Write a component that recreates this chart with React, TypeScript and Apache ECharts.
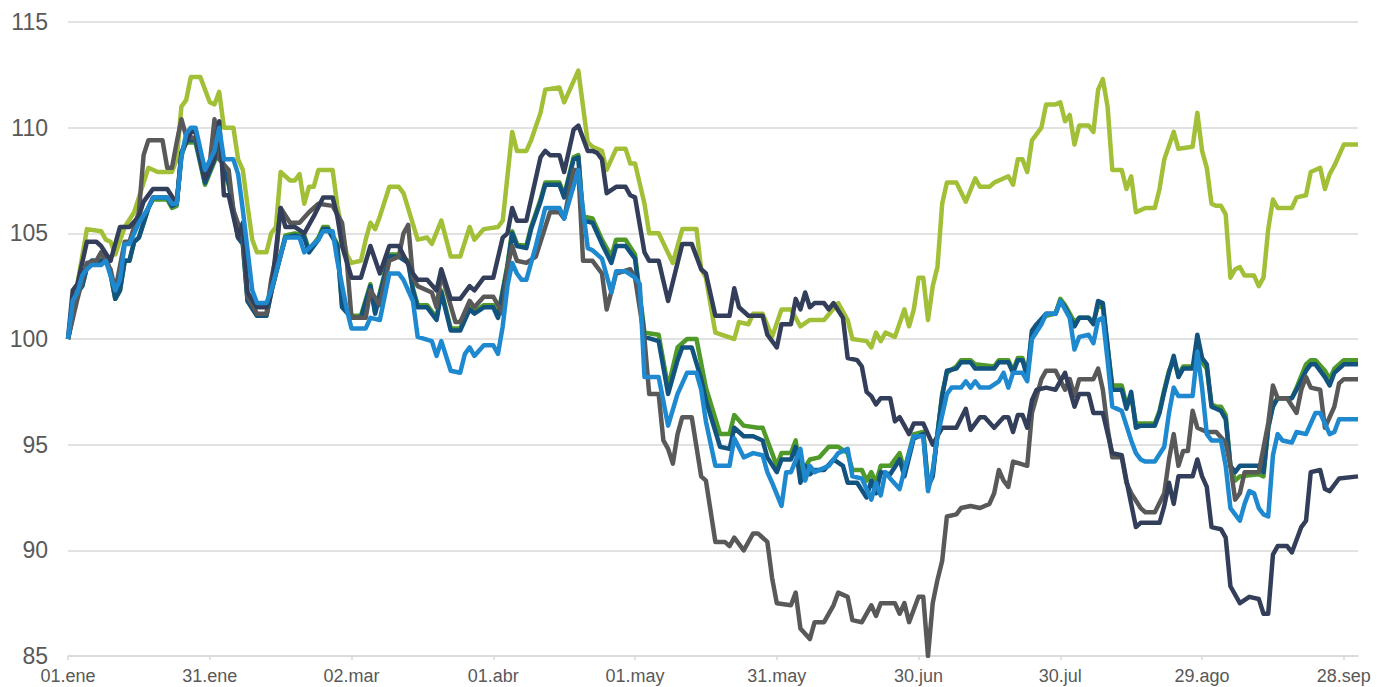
import React, { useEffect, useRef } from "react";
import * as echarts from "echarts";

const tickDays = [0, 30, 60, 90, 120, 150, 180, 210, 240, 270];
const tickLabels = ["01.ene", "31.ene", "02.mar", "01.abr", "01.may", "31.may", "30.jun", "30.jul", "29.ago", "28.sep"];

const limeData = [[0,100],[4,105.2],[7,105.1],[8,104.7],[9,104.6],[10,104.0],[12,105.3],[14,106],[17,108.1],[19,107.9],[22,107.9],[23,108.5],[24,111],[25,111.3],[26,112.4],[28,112.4],[30,111.2],[31,111.1],[32,111.7],[33,110],[35,110],[36,108.5],[37,108.0],[38,106.3],[39,104.7],[40,104.1],[42,104.1],[43,105],[44,105.3],[45,107.9],[47,107.5],[48,107.5],[49,107.8],[50,106.4],[51,107.2],[52,107.2],[53,108],[56,108],[57,106.3],[59,104],[60,103.6],[62,103.7],[63,104.7],[64,105.5],[65,105.2],[66,105.8],[68,107.2],[70,107.2],[71,106.9],[74,104.7],[76,104.8],[77,104.5],[79,105.6],[81,103.9],[83,103.9],[85,105.3],[86,104.7],[88,105.2],[91,105.3],[92,105.6],[93,107.7],[94,109.8],[95,108.9],[97,108.9],[98,109.4],[100,110.7],[101,111.8],[104,111.9],[105,111.2],[108,112.7],[110,109.3],[111,109.1],[113,108.9],[114,108],[116,109],[118,109],[119,108.3],[120,108.3],[122,106.4],[123,105],[125,105],[128,103.6],[130,105.2],[133,105.2],[134,103.3],[135,102.9],[137,100.3],[141,100.0],[142,100.8],[144,100.7],[145,101.2],[147,101.2],[149,100.1],[151,101.4],[153,101.4],[155,100.6],[157,100.9],[160,100.9],[163,101.7],[165,100.9],[166,100],[169,99.9],[170,99.6],[171,100.3],[172,99.9],[173,100.3],[175,100.1],[177,101.4],[178,100.6],[179,101.4],[180,102.9],[181,102.9],[182,100.9],[183,102.5],[184,103.4],[185,106.4],[186,107.4],[188,107.4],[190,106.5],[192,107.6],[193,107.2],[195,107.2],[196,107.4],[199,107.7],[200,107.3],[201,108.5],[202,108.5],[203,107.9],[204,109.4],[206,110],[207,111.1],[209,111.1],[210,111.2],[211,110.3],[212,110.6],[213,109.2],[214,110.1],[216,110.1],[217,109.8],[218,111.8],[219,112.3],[220,111],[221,108],[223,108],[224,107.1],[225,107.7],[226,106],[228,106.2],[230,106.2],[231,107.1],[232,108.5],[234,109.8],[235,109],[238,109.1],[239,110.7],[240,108.9],[241,108.1],[242,106.4],[243,106.3],[244,106.3],[245,105.9],[246,102.9],[247,103.3],[248,103.4],[249,103],[251,103],[252,102.5],[253,102.9],[254,105.2],[255,106.6],[256,106.2],[259,106.2],[260,106.7],[262,106.8],[263,107.9],[265,108.1],[266,107.1],[267,107.8],[268,108.2],[270,109.2],[273,109.2]];

const navyData = [[0,100],[1,102.3],[2,102.6],[4,104.6],[6,104.6],[7,104.4],[9,103.7],[11,105.3],[13,105.3],[15,105.8],[16,106.5],[18,107.1],[21,107.1],[23,106.4],[24,108.8],[25,109.3],[26,109.8],[27,109.8],[29,107.6],[31,108.6],[32,110.3],[33,106.8],[34,106.8],[36,104.8],[37,105.5],[38,102.2],[40,101.5],[42,101.5],[43,102.2],[45,106.2],[46,105.3],[48,105.3],[50,105],[52,105.8],[54,106.7],[56,106.7],[57,105.8],[58,104.4],[60,102.9],[62,102.9],[64,104.4],[66,103.1],[68,104.4],[70,104.4],[73,103.1],[74,102.8],[76,102.8],[78,102.3],[79,103.3],[81,101.9],[83,101.9],[85,102.5],[86,102.3],[88,102.9],[90,102.9],[92,104.8],[93,105],[94,106.2],[95,105.6],[97,105.6],[100,108.6],[101,108.9],[102,108.7],[104,108.7],[105,107.9],[107,109.9],[108,110.1],[110,108.9],[111,108.9],[112,108.8],[113,108.5],[114,106.9],[116,107.2],[118,107.2],[119,106.8],[120,106.7],[122,104.1],[123,103.7],[125,103.7],[127,101.8],[130,104.5],[132,104.5],[134,103.3],[135,103.1],[137,101.1],[140,101.1],[141,102.4],[142,101.5],[144,101.1],[147,101.1],[148,100.2],[150,99.6],[151,100.7],[153,100.7],[154,101.9],[155,101.4],[156,102.2],[157,101.5],[158,101.7],[160,101.7],[161,101.4],[162,101.7],[164,101],[165,99.1],[167,99],[168,98.7],[169,97.5],[170,97.3],[171,96.9],[172,97.2],[174,97.2],[175,96.1],[176,96.3],[178,95.5],[179,96],[181,96],[183,95.0],[185,95.8],[188,95.8],[190,96.7],[191,95.7],[193,96.3],[194,96.3],[196,95.8],[198,96.3],[199,96.3],[200,95.6],[201,96.4],[202,96.4],[203,95.8],[204,97.1],[205,97.6],[207,97.7],[209,97.6],[211,98.4],[213,96.8],[214,97.4],[216,97.4],[217,96.5],[219,96.5],[221,94.6],[223,94.5],[224,93.3],[226,91.1],[227,91.3],[231,91.3],[232,92.1],[233,93.2],[234,92.2],[235,93.5],[238,93.5],[239,94.3],[240,93.5],[241,93],[242,91.1],[244,91],[245,90.6],[246,88.3],[248,87.5],[250,87.8],[252,87.7],[253,87],[254,87.0],[255,89.8],[256,90.2],[258,90.2],[259,89.9],[261,91.1],[262,91.4],[263,93.7],[265,93.8],[266,92.9],[267,92.8],[269,93.4],[273,93.5]];

const grayData = [[0,100],[2,101.9],[4,103.6],[6,103.7],[7,104.1],[9,103.3],[10,102.3],[12,104.6],[13,104.6],[15,106],[16,108.7],[17,109.4],[20,109.4],[21,108.1],[22,108.1],[23,109.3],[24,110.4],[25,109.6],[27,109.5],[29,108],[30,108.3],[31,110.4],[32,108.5],[34,108],[35,106.1],[37,104.8],[38,102],[40,101.2],[42,101.2],[43,102.8],[44,103.9],[45,106.2],[47,105.5],[49,105.5],[51,106],[53,106.4],[56,106.3],[58,105.5],[59,103.7],[60,101],[63,101],[64,102.3],[66,101.6],[68,103.7],[70,103.9],[71,105],[72,105.4],[73,102.9],[74,102.5],[77,102.2],[78,101.5],[79,103.1],[82,100.8],[83,100.8],[85,101.8],[86,101.5],[88,102],[90,102],[92,101.2],[93,103.4],[94,104.4],[95,103.7],[97,103.6],[99,103.9],[101,105.3],[102,106],[104,106],[105,105.7],[107,108],[108,108],[109,103.7],[111,103.7],[113,103.1],[114,101.4],[116,103.1],[119,103.3],[120,102.9],[122,100],[123,97.4],[125,97.4],[126,95.2],[127,94.8],[128,94.1],[129,95.5],[130,96.3],[132,96.3],[134,93.5],[135,93.3],[137,90.4],[139,90.4],[140,90.2],[141,90.6],[143,90.0],[145,90.8],[146,90.8],[148,90.4],[149,88.7],[150,87.5],[153,87.4],[154,88.0],[155,86.3],[157,85.8],[158,86.6],[160,86.6],[162,87.4],[163,88],[165,87.8],[166,86.7],[168,86.6],[170,87.4],[171,86.9],[172,87.5],[175,87.5],[176,87],[177,87.5],[178,86.6],[180,87.8],[181,87.8],[182,85.0],[183,87.5],[184,88.6],[185,89.5],[186,91.6],[188,91.7],[189,92],[191,92.1],[193,92],[194,92.1],[195,92.2],[196,92.7],[197,93.8],[198,93.3],[199,93],[200,94.2],[203,94],[204,96.5],[205,97.3],[206,98.1],[207,98.5],[209,98.5],[211,97.6],[212,98.1],[213,97.3],[214,98.1],[217,98.1],[218,98.6],[219,97.6],[220,95.8],[221,94.4],[223,94.4],[224,93.2],[225,92.7],[227,92.0],[228,91.8],[230,91.8],[232,92.7],[233,94.3],[234,95.5],[235,94.0],[236,94.7],[237,94.7],[238,96.6],[239,95.8],[241,95.6],[243,95.6],[245,95.1],[246,94],[247,92.4],[248,92.7],[249,93.7],[252,93.7],[254,96.0],[255,97.8],[256,97.2],[258,97.2],[260,96.5],[261,97.6],[262,98.2],[263,97.7],[265,97.6],[266,95.8],[268,96.8],[269,97.9],[270,98.1],[273,98.1]];

const tealData = [[0,100],[2,102.2],[3,102.5],[4,103.4],[5,103.7],[7,103.7],[8,103.9],[9,103.1],[10,101.9],[11,102.3],[12,103.7],[13,103.7],[14,104.6],[15,104.8],[17,106.2],[18,106.7],[21,106.7],[22,106.3],[23,106.4],[24,108.8],[25,109.4],[27,109.4],[29,107.4],[31,108.5],[32,109.6],[33,108],[34,107.4],[36,104.8],[37,104.5],[38,101.8],[40,101.1],[42,101.1],[43,102.2],[44,103.1],[46,104.8],[48,104.9],[50,104.8],[51,104.1],[53,104.7],[54,105.2],[55,105.2],[57,104.4],[58,101.5],[60,101],[62,101],[64,102.5],[65,101.2],[68,103.9],[70,103.9],[72,103.6],[73,102.3],[74,101.5],[76,101.5],[78,100.9],[79,102.2],[81,100.4],[83,100.4],[85,101.4],[86,101.2],[88,101.5],[90,101.5],[91,101],[93,103.4],[94,105],[95,104.4],[97,104.3],[98,105.2],[100,106.5],[101,107.3],[104,107.3],[105,106.7],[107,108.5],[108,108.6],[109,105.6],[111,105.5],[113,104.5],[115,103.6],[116,104.4],[118,104.4],[120,103.8],[122,100.1],[125,99.9],[127,97.4],[129,99],[130,99.6],[132,99.6],[134,98.1],[135,97.1],[138,94.9],[140,94.8],[141,95.8],[143,95.4],[145,95.4],[147,95.2],[148,94.4],[150,93.7],[151,94.3],[153,94.3],[154,94.9],[155,93.2],[156,94.0],[157,93.6],[158,93.8],[160,93.8],[162,94.3],[164,94],[165,93.2],[167,93.2],[169,92.5],[170,93.3],[171,92.7],[172,93.7],[174,93.6],[176,94.3],[177,93.5],[179,95.3],[181,95.5],[182,93.0],[183,93.5],[184,95.5],[185,97.3],[186,98.5],[188,98.6],[189,98.9],[191,98.9],[192,98.6],[196,98.6],[197,98.9],[199,98.9],[200,98.4],[201,99],[202,99],[203,98.2],[204,100.4],[205,100.7],[207,101.2],[209,101.2],[210,101.8],[211,101.5],[213,100.6],[214,101.0],[216,101.0],[217,100.7],[218,101.8],[219,101.7],[221,97.6],[223,97.6],[224,96.7],[225,97.5],[226,95.8],[227,95.9],[230,95.9],[231,96.5],[232,97.5],[233,98.4],[234,99.2],[235,98.2],[236,98.6],[238,98.6],[239,100.2],[240,99.1],[241,98.8],[242,96.8],[243,96.7],[244,96.6],[245,96.2],[246,94.0],[247,93.7],[248,94.0],[252,94.0],[253,93.7],[254,95.8],[255,96.8],[256,97.2],[259,97.2],[260,97.6],[262,98.5],[263,98.8],[264,98.8],[266,98.2],[267,97.8],[268,98.4],[270,98.8],[273,98.8]];

const greenData = [[0,100],[2,102.2],[3,102.5],[4,103.4],[5,103.7],[7,103.7],[8,103.9],[9,103.1],[10,101.9],[11,102.3],[12,103.7],[13,103.7],[14,104.6],[15,104.8],[17,106.2],[18,106.6],[21,106.6],[22,106.2],[23,106.3],[24,108.7],[25,109.3],[27,109.3],[29,107.3],[31,108.4],[32,109.4],[33,107.9],[34,107.3],[36,104.8],[37,104.5],[38,101.8],[40,101.1],[42,101.1],[43,102.2],[44,103.1],[46,104.9],[48,105.0],[50,104.9],[51,104.2],[53,104.8],[54,105.3],[55,105.3],[57,104.5],[58,101.6],[60,101.1],[62,101.1],[64,102.6],[65,101.3],[68,104.0],[70,104.0],[72,103.7],[73,102.4],[74,101.6],[76,101.6],[78,101.0],[79,102.3],[81,100.5],[83,100.5],[85,101.5],[86,101.3],[88,101.6],[90,101.6],[91,101.1],[93,103.5],[94,105.1],[95,104.5],[97,104.4],[98,105.3],[100,106.6],[101,107.4],[104,107.4],[105,106.8],[107,108.6],[108,108.7],[109,105.8],[111,105.7],[113,104.7],[115,103.9],[116,104.7],[118,104.7],[120,104.0],[122,100.3],[125,100.2],[127,97.7],[129,99.6],[131,100],[133,100],[135,97.7],[138,95.5],[140,95.5],[141,96.4],[143,95.9],[146,95.8],[147,95.8],[149,94.6],[150,94.0],[151,94.6],[153,94.6],[154,95.2],[155,93.6],[157,94.3],[159,94.4],[161,94.9],[163,94.9],[165,94.6],[166,93.8],[168,93.8],[169,93.3],[170,93.7],[171,93.2],[172,94],[174,94],[176,94.6],[177,93.8],[179,95.5],[181,95.6],[182,93.2],[183,93.6],[184,95.5],[185,97.4],[186,98.4],[188,98.7],[189,99.0],[191,99.0],[192,98.8],[196,98.7],[197,99.0],[199,99.0],[200,98.5],[201,99.1],[202,99.1],[203,98.3],[204,100.3],[205,100.6],[207,101.1],[209,101.2],[210,101.9],[211,101.6],[213,100.8],[214,101.0],[216,101.0],[217,100.8],[218,101.6],[219,101.5],[221,97.8],[223,97.8],[224,96.9],[225,97.3],[226,96.0],[227,96.0],[230,96.0],[231,96.6],[232,97.6],[233,98.5],[234,99.0],[235,98.3],[236,98.7],[238,98.7],[239,99.4],[240,98.9],[241,98.6],[242,96.9],[243,96.8],[244,96.8],[245,96.4],[246,94.0],[247,93.3],[248,93.5],[252,93.6],[253,93.5],[254,95.8],[255,96.9],[256,97.2],[259,97.2],[260,97.7],[262,98.8],[263,99.0],[264,99.0],[266,98.5],[267,98.1],[268,98.6],[270,99.0],[273,99.0]];

const blueData = [[0,100],[1,101.8],[2,102.2],[3,103.0],[4,103.3],[5,103.5],[7,103.5],[8,103.7],[10,102.3],[11,102.8],[12,104.5],[13,104.5],[15,105.5],[17,106.2],[18,106.7],[21,106.7],[22,106.4],[23,106.4],[24,108.6],[25,109.7],[26,110],[27,110],[29,108],[31,108.9],[32,110],[33,108.5],[35,108.5],[36,107.8],[37,106.1],[39,102.3],[40,101.7],[42,101.7],[43,102.3],[46,104.8],[49,104.8],[50,104.1],[53,104.7],[54,105.1],[56,105.1],[57,103.7],[59,101.4],[60,100.5],[63,100.5],[64,101],[66,100.9],[68,103.1],[70,103.1],[71,102.8],[73,101.8],[74,100.1],[77,99.9],[78,99.2],[79,99.9],[81,98.5],[83,98.4],[84,99.3],[85,99.6],[86,99.2],[88,99.7],[90,99.7],[91,99.3],[92,100.6],[93,102.5],[94,103.6],[95,103.1],[96,102.8],[97,102.8],[99,104.4],[101,106.2],[104,106.2],[105,105.7],[108,108],[109,106.1],[110,104.3],[111,104.2],[113,103.8],[115,102.2],[116,103.2],[118,103.2],[120,102.9],[121,102.6],[122,98.2],[125,98.2],[127,95.9],[129,97.4],[131,98.4],[133,98.4],[134,97.6],[135,96.1],[137,94.0],[140,94.0],[141,95.3],[143,94.4],[145,94.6],[147,94.5],[148,93.7],[149,93.2],[151,92.1],[152,93.7],[153,93.7],[155,94.8],[156,93.3],[157,94],[158,93.7],[161,94],[163,94.6],[165,94.8],[166,93.5],[168,93.4],[170,92.4],[171,93.2],[172,92.6],[173,93.7],[174,93.4],[176,92.9],[177,93.8],[179,95.4],[181,95.4],[182,92.8],[183,93.8],[184,95.4],[186,97.4],[187,97.7],[189,97.7],[190,98.0],[191,97.7],[192,98.0],[193,97.7],[195,97.7],[197,98],[198,98.4],[199,97.7],[200,98.4],[202,98.4],[203,98],[204,100],[206,100.7],[207,101.2],[209,101.2],[210,101.8],[212,101],[213,99.5],[214,100.1],[216,100.2],[217,99.8],[218,100.9],[219,101],[220,99.0],[221,96.8],[223,96.6],[224,95.9],[225,95.2],[226,94.6],[227,94.3],[228,94.2],[230,94.2],[232,94.9],[233,96.5],[234,97.7],[235,97.3],[238,97.3],[239,99.4],[240,97.7],[241,95.5],[242,95.2],[244,95.2],[245,94.0],[246,92.0],[248,91.4],[249,92.2],[250,92.8],[251,92.7],[252,92.0],[253,91.7],[254,91.6],[255,94.5],[256,95.5],[257,95.2],[259,95.1],[260,95.6],[262,95.5],[264,96.5],[265,96.5],[267,95.5],[268,95.6],[269,96.2],[273,96.2]];

const seriesDefs = [
  { name: "Serie A", data: limeData, color: "#A2C037" },
  { name: "Serie B", data: greenData, color: "#4F9A28" },
  { name: "Serie C", data: tealData, color: "#12537F" },
  { name: "Serie D", data: grayData, color: "#595959" },
  { name: "Serie E", data: navyData, color: "#333F5A" },
  { name: "Serie F", data: blueData, color: "#1F89CF" },
];

export default function App() {
  const ref = useRef<HTMLDivElement>(null);
  useEffect(() => {
    if (!ref.current) return;
    const chart = echarts.init(ref.current, null, { renderer: "svg" });
    chart.setOption({
      animation: false,
      backgroundColor: "#ffffff",
      grid: { left: 68, right: 19, top: 22, bottom: 31, containLabel: false },
      xAxis: {
        type: "value",
        min: 0,
        max: 273,
        splitLine: { show: false },
        axisLine: { show: true, lineStyle: { color: "#d9d9d9", width: 1.5 } },
        axisTick: { show: true, customValues: tickDays, length: 4, lineStyle: { color: "#d9d9d9", width: 1.5 } },
        axisLabel: {
          customValues: tickDays,
          formatter: (v: number) => {
            const i = tickDays.indexOf(Math.round(v));
            return i >= 0 ? tickLabels[i] : "";
          },
          color: "#595959",
          fontSize: 18,
          fontFamily: "Liberation Sans, Arial, sans-serif",
          margin: 11,
        },
      },
      yAxis: {
        type: "value",
        min: 85,
        max: 115,
        interval: 5,
        axisLine: { show: false },
        axisTick: { show: false },
        splitLine: { show: true, lineStyle: { color: "#d9d9d9", width: 1.5 } },
        axisLabel: {
          color: "#595959",
          fontSize: 23,
          fontFamily: "Liberation Sans, Arial, sans-serif",
          margin: 20,
        },
      },
      series: seriesDefs.map((s) => ({
        name: s.name,
        type: "line",
        data: s.data,
        showSymbol: false,
        symbol: "none",
        smooth: false,
        lineStyle: { width: 4.5, color: s.color, join: "round" },
        itemStyle: { color: s.color },
      })),
    });
    return () => chart.dispose();
  }, []);
  return (
    <div
      ref={ref}
      style={{ position: "fixed", left: 0, top: 0, width: 1377, height: 687, background: "#fff" }}
    />
  );
}
